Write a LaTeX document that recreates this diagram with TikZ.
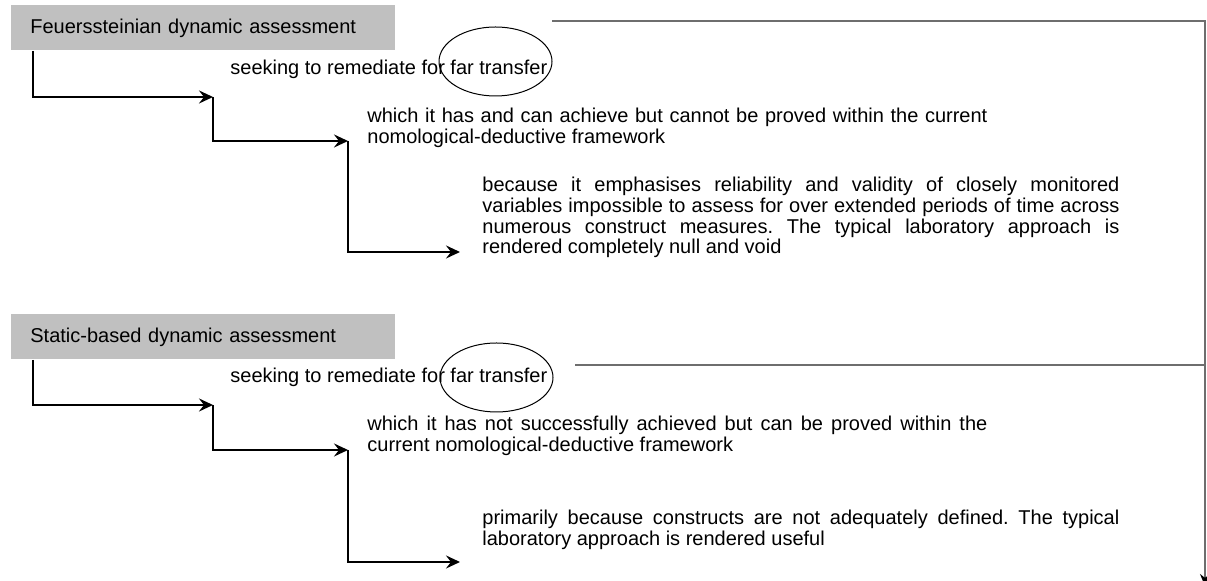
\documentclass[tikz,border=0pt]{standalone}
\usepackage{fontspec}
\setmainfont{Liberation Sans}
\usepackage{tikz}
\usetikzlibrary{arrows.meta,calc}
\definecolor{boxgray}{HTML}{C0C0C0}
\definecolor{rulegray}{HTML}{6E6E6E}
\tolerance=10000
\hbadness=10000
\hyphenpenalty=10000
\frenchspacing

\begin{document}
\begin{tikzpicture}[x=0.5pt, y=-0.5pt,
    font=\fontsize{10pt}{10.3pt}\selectfont,
    every node/.style={inner sep=0pt},
    headbox/.style={fill=boxgray, anchor=north west, text width=173pt,
      inner xsep=9.5pt, text height=14pt, text depth=8.5pt, align=left},
    note/.style={anchor=base west},
    para/.style={anchor=base west, align=justify},
    flow/.style={line width=1.3pt, -{Stealth[length=7pt,width=6.5pt,inset=2.5pt]}},
    ring/.style={line width=0.5pt},
    rim/.style={rulegray, line width=0.7pt}]
  \useasboundingbox (0,0) rectangle (1207,581);

  % Feuerssteinian branch
  \node[headbox] (hdA) at (11,5) {Feuerssteinian dynamic assessment};
  \node[note] (seekA) at (230,75) {seeking to remediate for far transfer};
  \node[para, text width=310pt] (whichA) at (367,123)
    {which it has and can achieve but cannot be proved within the current\linebreak
     nomological-deductive framework};
  \node[para, text width=318.5pt] (whyA) at (482,192)
    {because it emphasises reliability and validity of closely monitored\linebreak
     variables impossible to assess for over extended periods of time across\linebreak
     numerous construct measures. The typical laboratory approach is\linebreak
     rendered completely null and void};

  \coordinate (tA1) at (213,97);
  \coordinate (tA2) at (348,141);
  \coordinate (tA3) at (460,252);
  \draw[flow] ($(hdA.south west)+(22,0)$) |- (tA1);
  \draw[flow] (tA1) |- (tA2);
  \draw[flow] (tA2) |- (tA3);
  \draw[ring] (495.5,61.5) ellipse [x radius=56.5, y radius=34.5];

  % static-based branch
  \node[headbox] (hdB) at (11,314) {Static-based dynamic assessment};
  \node[note] (seekB) at (230,383) {seeking to remediate for far transfer};
  \node[para, text width=310pt] (whichB) at (367,431)
    {which it has not successfully achieved but can be proved within the\linebreak
     current nomological-deductive framework};
  \node[para, text width=318.5pt] (whyB) at (482,525)
    {primarily because constructs are not adequately defined. The typical\linebreak
     laboratory approach is rendered useful};

  \coordinate (tB1) at (213,405);
  \coordinate (tB2) at (348,450);
  \coordinate (tB3) at (460,562);
  \draw[flow] ($(hdB.south west)+(22,0)$) |- (tB1);
  \draw[flow] (tB1) |- (tB2);
  \draw[flow] (tB2) |- (tB3);
  \draw[ring] (496.5,377.5) ellipse [x radius=56.5, y radius=34.5];

  % right-hand rail
  \coordinate (railA) at (552,21);
  \coordinate (railB) at (575,365);
  \coordinate (corner) at (1205,21);
  \coordinate (foot) at (1205,586);
  \draw[rim, -{Stealth[black,length=6pt,width=5pt]}] (railA) -- (corner) -- (foot);
  \draw[rim] (railB) -- (railB -| corner);
\end{tikzpicture}
\end{document}
